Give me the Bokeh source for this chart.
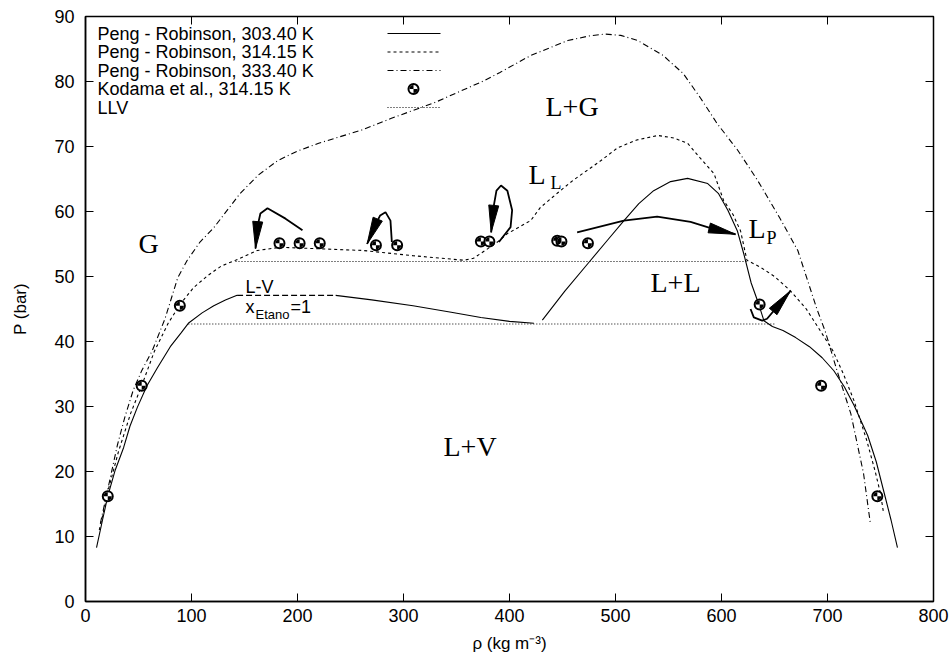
import math
from bokeh.plotting import figure
from bokeh.models import Range1d, FixedTicker, Label
from bokeh.embed import file_html
from bokeh.resources import INLINE

# ---------------- data ----------------
# Peng-Robinson, 303.40 K (solid); the flat pure-ethane piece is dashed
rho_303_left = [10.4, 16, 21, 28, 36, 42, 49, 58, 68, 80, 90, 97, 110, 121, 132, 143]
p_303_left = [8.3, 12.5, 16.2, 20.2, 23.7, 27, 29.9, 33.2, 36, 39.2, 41.3, 42.8, 44.4, 45.5, 46.4, 47.1]
rho_303_ethane = [143, 236]
p_303_ethane = [47.1, 47.1]
rho_303_mid = [236, 270, 309, 345, 373, 400, 423]
p_303_mid = [47.1, 46.4, 45.5, 44.5, 43.7, 43.1, 42.8]
rho_303_right = [431, 452, 474, 492, 508, 522, 536, 552, 568, 587, 597, 606, 615, 621, 628,
                 635, 640, 648, 658, 670, 683, 695, 706, 716, 725, 738, 746, 753, 760, 766]
p_303_right = [43.3, 47.7, 52, 55.5, 58.6, 61.2, 63.2, 64.6, 65.1, 64.3, 62.8, 60.2, 57, 53.5, 49,
               45.8, 43.2, 42.3, 41.7, 40.6, 39.2, 37.5, 35.5, 33, 30.2, 25.5, 21.5, 17, 12.5, 8.3]

# Peng-Robinson, 314.15 K (dashed)
rho_314 = [13, 18, 22, 31, 42.5, 53, 65, 78, 89.6, 102, 115, 128, 141.5, 162, 184, 215, 262, 309,
           357, 366, 377, 388.6, 398, 420, 429, 445, 460, 486, 502, 520, 540, 555, 568, 580, 593,
           602, 611, 618, 624, 637, 650, 665, 680, 693, 705, 715, 725, 737, 745, 750, 753]
p_314 = [11, 14.5, 17.5, 23, 28.9, 33.2, 38.5, 42.8, 45.8, 48.3, 50.1, 51.6, 52.5, 54, 54.5, 54.3,
         54, 53.2, 52.5, 52.8, 54, 55.3, 56.6, 58.6, 60.6, 62.8, 64.8, 67.8, 69.8, 71, 71.7, 71.3,
         70.5, 68.2, 65.8, 61.7, 59.5, 57, 52.5, 51.4, 50, 47.8, 45, 41.7, 38.6, 35, 30.9, 24.8,
         20, 16.6, 13.5]

# Peng-Robinson, 333.40 K (dash-dot)
rho_333 = [14, 22, 30, 37, 45, 53, 63, 75, 87, 96, 108, 121, 146, 163, 181, 200, 220, 260, 288,
           330, 377, 391, 420, 455, 475, 490, 505, 521, 545, 564, 580, 596, 615, 634, 655, 672,
           690, 698, 709, 722, 734, 740.6]
p_333 = [12, 18, 24, 28.3, 32.5, 35.5, 38.6, 43.5, 49.8, 52.5, 55.3, 57.5, 62.8, 65.6, 67.8, 69.3,
         70.5, 72.5, 74.3, 76.8, 80.2, 81.4, 84, 86.3, 87, 87.3, 87.1, 86.3, 84, 81.2, 77.5, 73.5,
         69.5, 64.8, 59, 54, 45, 41.5, 35.5, 28.9, 19.7, 11.8]

# Kodama et al., 314.15 K
rho_exp = [21, 53, 89, 183, 202, 221, 274, 294, 373, 381, 445, 449, 474, 636, 694, 747]
p_exp = [16.2, 33.2, 45.5, 55.1, 55.1, 55.1, 54.8, 54.8, 55.4, 55.4, 55.5, 55.4, 55.1, 45.7, 33.2, 16.2]

# LLV three-phase lines
rho_llv_upper = [141.5, 624]
p_llv_upper = [52.3, 52.3]
rho_llv_lower = [97, 650]
p_llv_lower = [42.7, 42.7]

# curved arrows (path ends at the arrow tip)
arrow_paths = [
    ([204.7, 188.7, 171.7, 165, 162, 160.4], [57.1, 58.9, 60.5, 59.7, 57.5, 54.3]),
    ([289, 287.7, 283, 278, 273, 265.7], [55.3, 58.6, 59.9, 59.4, 57.8, 55]),
    ([390, 401, 402.5, 398, 392, 387.7, 385, 382.7], [55.3, 57.6, 60.2, 63.2, 64, 63.2, 60.7, 56.8]),
    ([463.8, 507.9, 539.3, 570.8, 592.8, 613.2], [56.8, 58.6, 59.2, 58.4, 57.3, 56.5]),
    ([627.4, 630.5, 638.4, 643, 665.1], [45, 43.7, 43.2, 43.5, 47.8]),
]

xticks = [0, 100, 200, 300, 400, 500, 600, 700, 800]
yticks = [0, 10, 20, 30, 40, 50, 60, 70, 80, 90]

# ---------------- layout ----------------
W, H = 951, 663
LEFT, RIGHT, TOP, BOTTOM = 85, 18, 16, 62
X0, X1, Y0, Y1 = 0, 800, 0, 90
SX = (W - LEFT - RIGHT) / (X1 - X0)     # px per data unit
SY = (H - TOP - BOTTOM) / (Y1 - Y0)
TICK = 8


def dx(px):
    return X0 + (px - LEFT) / SX


def dy(py):
    return Y0 + (H - BOTTOM - py) / SY


SANS = "Liberation Sans"
SERIF = "Liberation Serif"

p = figure(width=W, height=H, x_range=Range1d(X0, X1), y_range=Range1d(Y0, Y1),
           output_backend="svg", toolbar_location=None,
           min_border_left=LEFT, min_border_right=RIGHT,
           min_border_top=TOP, min_border_bottom=BOTTOM)
p.xgrid.visible = False
p.ygrid.visible = False
p.outline_line_color = "black"
p.outline_line_width = 1.5
p.background_fill_color = "white"
p.border_fill_color = "white"

p.xaxis.ticker = FixedTicker(ticks=xticks)
p.yaxis.ticker = FixedTicker(ticks=yticks)
for ax in p.xaxis + p.yaxis:
    ax.major_tick_in = TICK
    ax.major_tick_out = 0
    ax.minor_tick_in = 0
    ax.minor_tick_out = 0
    ax.major_tick_line_color = "black"
    ax.major_tick_line_width = 1
    ax.axis_line_color = "black"
    ax.axis_line_width = 1.5
    ax.major_label_text_font = SANS
    ax.major_label_text_font_size = "18px"
    ax.major_label_text_color = "black"
    ax.axis_label_text_font = SANS
    ax.axis_label_text_font_size = "17px"
    ax.axis_label_text_font_style = "normal"
    ax.axis_label_text_color = "black"

p.xaxis.axis_label = "ρ (kg m⁻³)"
p.xaxis.major_label_standoff = 7
p.xaxis.axis_label_standoff = 9
p.yaxis.axis_label = "P (bar)"
p.yaxis.major_label_standoff = 11
p.yaxis.axis_label_standoff = 21

# mirrored ticks on the top and right edges
p.segment(x0=xticks, y0=[Y1] * len(xticks), x1=xticks, y1=[Y1 - TICK / SY] * len(xticks),
          line_color="black", line_width=1)
p.segment(x0=[X1] * len(yticks), y0=yticks, x1=[X1 - TICK / SX] * len(yticks), y1=yticks,
          line_color="black", line_width=1)

# ---------------- curves ----------------
p.line(rho_303_left, p_303_left, line_color="black", line_width=1.1)
p.line(rho_303_ethane, p_303_ethane, line_color="black", line_width=1.1, line_dash="6 3")
p.line(rho_303_mid, p_303_mid, line_color="black", line_width=1.1)
p.line(rho_303_right, p_303_right, line_color="black", line_width=1.1)
p.line(rho_314, p_314, line_color="black", line_width=1.1, line_dash="3 3")
p.line(rho_333, p_333, line_color="black", line_width=1.1, line_dash="6 3 1 3")
p.line(rho_llv_upper, p_llv_upper, line_color="black", line_width=1.1, line_dash="1 2")
p.line(rho_llv_lower, p_llv_lower, line_color="black", line_width=1.1, line_dash="1 2")


def draw_markers(xs, ys):
    p.scatter(xs, ys, size=10, marker="circle", fill_color="white",
              line_color="black", line_width=2)
    for a0 in (math.pi / 2, 3 * math.pi / 2):
        p.wedge(xs, ys, radius=4, radius_units="screen", start_angle=a0,
                end_angle=a0 + math.pi / 2, fill_color="black", line_color=None)


draw_markers(rho_exp, p_exp)


# ---------------- arrows ----------------
def arrow_head(xs, ys, length=27, width=10):
    tx, ty = xs[-1], ys[-1]
    vx = (tx - xs[-2]) * SX
    vy = (ty - ys[-2]) * SY
    n = math.hypot(vx, vy)
    ux, uy = vx / n, vy / n
    nx, ny = -uy, ux
    bx, by = -ux * length, -uy * length
    pts = [(0, 0),
           (bx + nx * width / 2, by + ny * width / 2),
           (bx - nx * width / 2, by - ny * width / 2)]
    return [tx + a / SX for a, b in pts], [ty + b / SY for a, b in pts]


for xs, ys in arrow_paths:
    p.line(xs, ys, line_color="black", line_width=1.8)
    hx, hy = arrow_head(xs, ys)
    p.patch(hx, hy, fill_color="black", line_color="black", line_width=1)


# ---------------- labels ----------------
def label(text, px, py, font, size):
    # py is the baseline in pixels; shift by the font's descent
    shift = 0.32 * size
    p.add_layout(Label(x=dx(px), y=dy(py - shift), text=text, text_font=font,
                       text_font_size=f"{size}px", text_align="left",
                       text_baseline="alphabetic", text_color="black"))


label("G", 138, 252, SERIF, 28)
label("L+G", 545, 115, SERIF, 28)
label("L", 528, 183, SERIF, 28)
label("L", 550, 188, SERIF, 18)
label("L", 748, 237, SERIF, 28)
label("P", 766, 243, SERIF, 18)
label("L+L", 650, 291, SERIF, 28)
label("L+V", 443, 455, SERIF, 28)
label("L-V", 245, 292, SANS, 18)
label("x", 245, 312, SANS, 18)
label("Etano", 255, 318, SANS, 13)
label("=1", 290, 312, SANS, 18)

# ---------------- legend ----------------
legend_rows = [33, 51.5, 70, 88.5, 107]
legend_text = ["Peng - Robinson, 303.40 K", "Peng - Robinson, 314.15 K",
               "Peng - Robinson, 333.40 K", "Kodama et al., 314.15 K", "LLV"]
legend_dash = ["solid", "3 3", "6 3 1 3", None, "1 2"]
for row, txt, dash in zip(legend_rows, legend_text, legend_dash):
    p.add_layout(Label(x=dx(97), y=dy(row), text=txt, text_font=SANS,
                       text_font_size="18px", text_baseline="middle",
                       text_color="black"))
    if dash is None:
        draw_markers([dx(413)], [dy(row)])
    else:
        p.line([dx(387), dx(440)], [dy(row), dy(row)], line_color="black",
               line_width=1.1, line_dash=dash)

open("out.html", "w").write(file_html(p, INLINE))
